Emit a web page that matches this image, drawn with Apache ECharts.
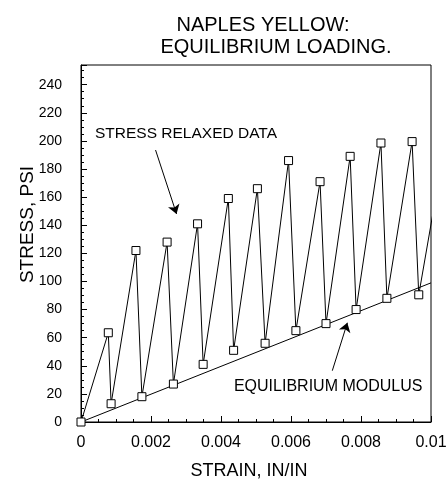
<!DOCTYPE html>
<html lang="en">
<head>
  <meta charset="UTF-8" />
  <title>Naples Yellow: Equilibrium Loading</title>
  <script src="https://cdn.jsdelivr.net/npm/echarts@6.0.0/dist/echarts.min.js"></script>
  <style>
    html, body { margin: 0; padding: 0; background: #fff; }
    #chart { width: 447px; height: 481px; }
  </style>
</head>
<body>
  <div id="chart"></div>
  <script>
    // stress relaxation cycles (strain in/in, stress psi)
    const strain = [0, 0.00078, 0.00086, 0.00157, 0.00174, 0.00246, 0.00264, 0.00333, 0.00349,
      0.00421, 0.00436, 0.00504, 0.00526, 0.00593, 0.00614, 0.00683, 0.00700, 0.00769, 0.00786,
      0.00857, 0.00874, 0.00946, 0.00965, 0.0104];
    const stress = [0, 63.5, 13, 122, 18, 128, 27, 141, 41, 159, 51, 166, 56, 186, 65, 171, 70,
      189, 80, 198.5, 88, 199.5, 90.5, 198];

    // equilibrium modulus line
    const modStrain = [0, 0.01];
    const modStress = [0, 99];

    // annotations: [strain, stress]
    const relaxedArrow = [[0.00213, 193.5], [0.00273, 148]];
    const modulusArrow = [[0.00718, 36.5], [0.00761, 70.6]];
    const relaxedLabel = { text: 'STRESS RELAXED DATA', at: [0.0004, 204.8], size: 15.5 };
    const modulusLabel = { text: 'EQUILIBRIUM MODULUS', at: [0.00437, 24.9], size: 16 };

    const font = '"Liberation Sans", Arial, Helvetica, sans-serif';
    const chart = echarts.init(document.getElementById('chart'));

    const arrowLine = (pts) => ({
      type: 'line',
      data: [],
      silent: true,
      markLine: {
        silent: true,
        symbol: ['none', 'arrow'],
        symbolSize: 9,
        label: { show: false },
        lineStyle: { color: '#000', width: 1, type: 'solid' },
        emphasis: { disabled: true },
        data: [[{ coord: pts[0] }, { coord: pts[1] }]]
      }
    });

    chart.setOption({
      animation: false,
      title: [
        { text: 'NAPLES YELLOW:', left: 258, top: 10, textAlign: 'center',
          textStyle: { fontFamily: font, fontSize: 20, fontWeight: 'normal', color: '#000' } },
        { text: 'EQUILIBRIUM LOADING.', left: 271, top: 32, textAlign: 'center',
          textStyle: { fontFamily: font, fontSize: 20, fontWeight: 'normal', color: '#000' } }
      ],
      grid: { left: 81, right: 16, top: 65, bottom: 59, show: true, borderColor: '#000', borderWidth: 1, outerBoundsMode: 'none' },
      xAxis: {
        type: 'value', min: 0, max: 0.01, interval: 0.002,
        name: 'STRAIN, IN/IN', nameLocation: 'middle', nameGap: 40, nameMoveOverlap: false,
        nameTextStyle: { fontFamily: font, fontSize: 18, color: '#000', padding: [0, 14, 0, 0] },
        axisLine: { lineStyle: { color: '#000', width: 1 } },
        axisTick: { inside: true, length: 6, lineStyle: { color: '#000' } },
        minorTick: { show: true, splitNumber: 4, length: 3, lineStyle: { color: '#000' } },
        splitLine: { show: false },
        axisLabel: { fontFamily: font, fontSize: 16, color: '#000', margin: 13 }
      },
      yAxis: {
        type: 'value', min: 0, max: 254, interval: 20,
        name: 'STRESS, PSI', nameLocation: 'middle', nameGap: 44, nameMoveOverlap: false,
        nameTextStyle: { fontFamily: font, fontSize: 19, color: '#000', padding: [0, 0, 0, 38] },
        axisLine: { lineStyle: { color: '#000', width: 1 } },
        axisTick: { inside: true, length: 6, lineStyle: { color: '#000' } },
        minorTick: { show: true, splitNumber: 4, length: 3, lineStyle: { color: '#000' } },
        splitLine: { show: false },
        axisLabel: { fontFamily: font, fontSize: 14, color: '#000', margin: 19, showMaxLabel: false }
      },
      series: [
        {
          type: 'line',
          data: modStrain.map((x, i) => [x, modStress[i]]),
          showSymbol: false,
          lineStyle: { color: '#000', width: 1 },
          silent: true
        },
        {
          type: 'line',
          data: strain.map((x, i) => [x, stress[i]]),
          symbol: 'rect',
          symbolSize: 8,
          clip: true,
          lineStyle: { color: '#000', width: 1 },
          itemStyle: { color: '#fff', borderColor: '#000', borderWidth: 1 },
          silent: true,
          z: 3
        },
        arrowLine(relaxedArrow),
        arrowLine(modulusArrow)
      ]
    });

    // annotation texts anchored in data units
    const labelGraphic = (lbl) => {
      const p = chart.convertToPixel({ gridIndex: 0 }, lbl.at);
      return {
        type: 'text', x: p[0], y: p[1],
        style: { text: lbl.text, fill: '#000', font: lbl.size + 'px ' + font, textVerticalAlign: 'middle' }
      };
    };
    chart.setOption({ graphic: [labelGraphic(relaxedLabel), labelGraphic(modulusLabel)] });
  </script>
</body>
</html>
